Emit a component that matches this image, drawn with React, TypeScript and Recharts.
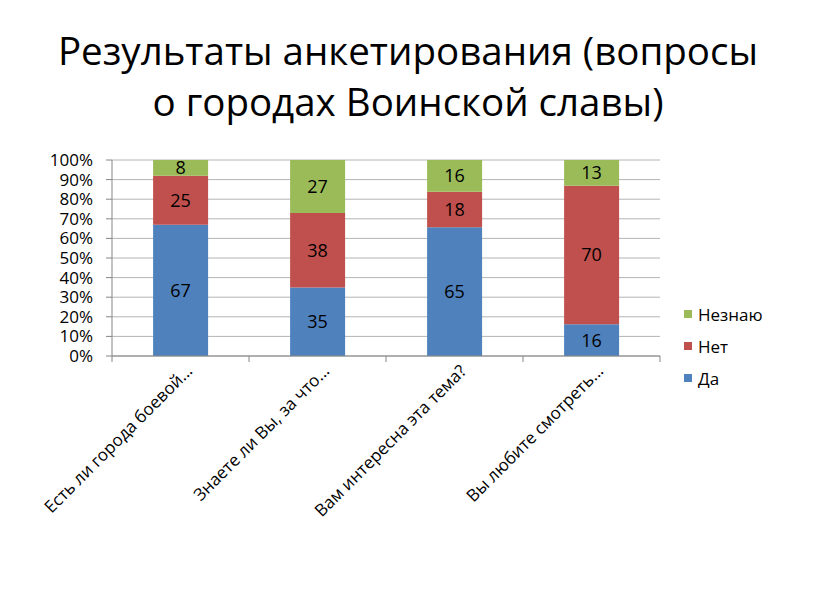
import React from "react";
import { BarChart, Bar, XAxis, YAxis, CartesianGrid, LabelList } from "recharts";

const categories = [
  "Есть ли города боевой...",
  "Знаете ли Вы, за что...",
  "Вам интересна эта тема?",
  "Вы любите смотреть...",
];
const daValues = [67, 35, 65, 16];
const netValues = [25, 38, 18, 70];
const neznayuValues = [8, 27, 16, 13];
const yTicks = [0, 0.1, 0.2, 0.3, 0.4, 0.5, 0.6, 0.7, 0.8, 0.9, 1];

const series = [
  { key: "da", name: "Да", color: "#4F81BD" },
  { key: "net", name: "Нет", color: "#C0504D" },
  { key: "neznayu", name: "Незнаю", color: "#9BBB59" },
];

const data = categories.map((c, i) => ({
  name: c,
  da: daValues[i],
  net: netValues[i],
  neznayu: neznayuValues[i],
}));

const FONT = "'Open Sans', sans-serif";
const AXIS = "#868686";

const XTick = (p: any) => {
  const band = 548 / categories.length;
  const { x, y, index, payload } = p;
  const ax = x + 13;
  const ay = y + 16;
  return (
    <g>
      <line x1={x - band / 2} y1={y} x2={x - band / 2} y2={y + 6} stroke={AXIS} />
      {index === categories.length - 1 && (
        <line x1={x + band / 2} y1={y} x2={x + band / 2} y2={y + 6} stroke={AXIS} />
      )}
      <text
        x={ax}
        y={ay}
        textAnchor="end"
        transform={`rotate(-45, ${ax}, ${ay})`}
        fontSize={17}
        fontFamily={FONT}
        fill="#000"
      >
        {payload.value}
      </text>
    </g>
  );
};

export default function App() {
  return (
    <div style={{ position: "absolute", left: 0, top: 0, width: 816, height: 613, background: "#fff", fontFamily: FONT }}>
      <div style={{ position: "absolute", left: 0, top: 25, width: 816, textAlign: "center", fontSize: 38.5, lineHeight: "51px", color: "#000" }}>
        <div>Результаты анкетирования (вопросы</div>
        <div>о городах Воинской славы)</div>
      </div>
      <div style={{ position: "absolute", left: 0, top: 0 }}>
        <BarChart
          width={816}
          height={613}
          data={data}
          stackOffset="expand"
          barCategoryGap="30%"
          margin={{ top: 160, right: 156, left: 52, bottom: 7 }}
        >
          <CartesianGrid vertical={false} stroke="#b4b4b4" />
          <XAxis
            dataKey="name"
            height={250}
            axisLine={{ stroke: AXIS }}
            tickLine={false}
            tickSize={0}
            tickMargin={0}
            interval={0}
            tick={<XTick />}
          />
          <YAxis
            width={60}
            ticks={yTicks}
            domain={[0, 1]}
            interval={0}
            tickFormatter={(v: number) => `${Math.round(v * 100)}%`}
            axisLine={{ stroke: AXIS }}
            tickLine={{ stroke: AXIS }}
            tickSize={6}
            tickMargin={13}
            tick={{ fontSize: 17, fill: "#000", fontFamily: FONT }}
          />
          {series.map((s) => (
            <Bar key={s.key} dataKey={s.key} name={s.name} stackId="a" fill={s.color} isAnimationActive={false}>
              <LabelList dataKey={s.key} position="center" fill="#000" fontSize={18} fontFamily={FONT} />
            </Bar>
          ))}
        </BarChart>
      </div>
      <div style={{ position: "absolute", left: 684, top: 298 }}>
        {[...series].reverse().map((s) => (
          <div key={s.key} style={{ display: "flex", alignItems: "center", height: 32, fontSize: 17 }}>
            <span style={{ width: 8, height: 8, background: s.color, marginRight: 6, display: "inline-block" }} />
            <span>{s.name}</span>
          </div>
        ))}
      </div>
    </div>
  );
}
